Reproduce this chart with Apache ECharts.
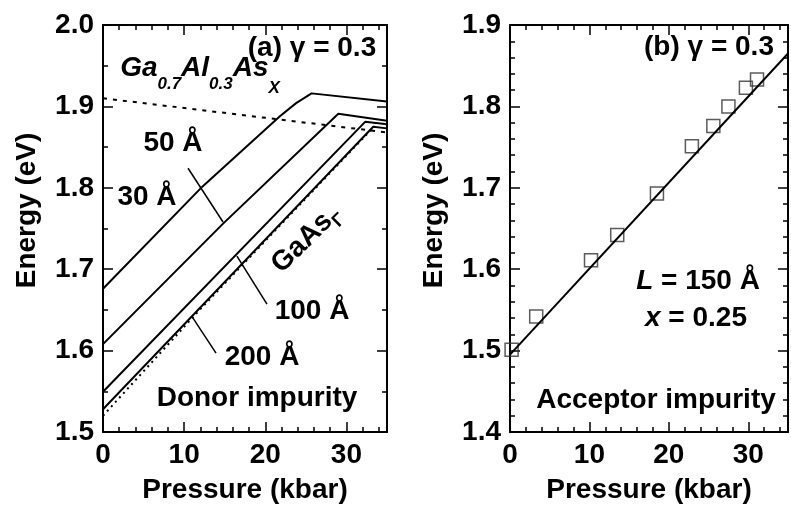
<!DOCTYPE html>
<html><head><meta charset="utf-8">
<script src="https://cdn.jsdelivr.net/npm/echarts@6/dist/echarts.min.js"></script>
<style>html,body{margin:0;padding:0;background:#fff}#c{width:791px;height:519px}</style>
</head><body><div id="c"></div>
<script>
// ---------- Panel (a): donor impurity, [pressure kbar, energy eV] ----------
const line30A  = [[0,1.676],[12,1.799],[21.8,1.888],[23.8,1.904],[25.7,1.916],[35,1.906]];
const line50A  = [[0,1.608],[14.8,1.756],[29.0,1.891],[35,1.8825]];
const line100A = [[0,1.5495],[32.3,1.881],[35,1.878]];
const line200A = [[0,1.528],[33.3,1.875],[35,1.873]];
const gaAsGamma = [[0,1.520],[12,1.651],[33.3,1.874]];
const gaAlAsX   = [[0,1.910],[35,1.868]];
const pointer50  = [[10.48,1.824],[14.79,1.758]];
const pointer100 = [[16.51,1.716],[20.21,1.657]];
const pointer200 = [[11.09,1.640],[13.93,1.597]];

// ---------- Panel (b): acceptor impurity ----------
const acceptorPressure = [0.2,3.3,10.2,13.5,18.5,22.9,25.6,27.5,29.7,31.1];
const acceptorEnergy   = [1.501,1.542,1.611,1.642,1.693,1.751,1.776,1.800,1.823,1.833];
const acceptorFit = [[0,1.495],[35,1.865]];

// ---------- axes ----------
const xRange = [0, 35];
const xLabelTicks = [0, 10, 20, 30];
const yRangeA = [1.5, 2.0];
const yRangeB = [1.4, 1.9];
const xTitle = 'Pressure (kbar)';
const yTitle = 'Energy (eV)';

const FONT = 'Liberation Sans';
const black = '#000';
const lbl = {fontFamily: FONT, fontWeight: 'bold', fontSize: 28, color: black};

const xAxes = [], yAxes = [];
function addAxes(g, yr, ySplit) {
  const base = {gridIndex: g, type: 'value', min: xRange[0], max: xRange[1], splitLine: {show: false}};
  xAxes.push(Object.assign({}, base, {
    position: 'bottom', interval: 2,
    axisLine: {show: true, onZero: false, lineStyle: {color: black, width: 2}},
    axisTick: {show: true, inside: true, length: 5, lineStyle: {color: black, width: 1.5}},
    axisLabel: Object.assign({margin: 9, formatter: v => xLabelTicks.includes(v) ? String(v) : ''}, lbl),
    name: xTitle, nameLocation: 'middle', nameGap: 44,
    nameTextStyle: {fontFamily: FONT, fontWeight: 'bold', fontSize: 28, color: black}
  }));
  xAxes.push(Object.assign({}, base, {position: 'bottom', interval: 10,
    axisLine: {show: false}, axisTick: {show: true, inside: true, length: 10, lineStyle: {color: black, width: 1.5}},
    axisLabel: {show: false}}));
  xAxes.push(Object.assign({}, base, {position: 'top', interval: 2,
    axisLine: {show: true, onZero: false, lineStyle: {color: black, width: 2}},
    axisTick: {show: true, inside: true, length: 5, lineStyle: {color: black, width: 1.5}},
    axisLabel: {show: false}}));
  xAxes.push(Object.assign({}, base, {position: 'top', interval: 10,
    axisLine: {show: false}, axisTick: {show: true, inside: true, length: 10, lineStyle: {color: black, width: 1.5}},
    axisLabel: {show: false}}));
  const yb = {gridIndex: g, type: 'value', min: yr[0], max: yr[1], interval: 0.1, splitLine: {show: false},
    axisLine: {show: true, onZero: false, lineStyle: {color: black, width: 2}},
    axisTick: {show: true, inside: true, length: 10, lineStyle: {color: black, width: 1.5}},
    minorTick: {show: true, splitNumber: ySplit, length: 5, lineStyle: {color: black, width: 1.5}}};
  yAxes.push(Object.assign({}, yb, {position: 'left',
    axisLabel: Object.assign({margin: 9, formatter: v => v.toFixed(1)}, lbl),
    name: yTitle, nameLocation: 'middle', nameGap: 62, nameRotate: 90,
    nameTextStyle: {fontFamily: FONT, fontWeight: 'bold', fontSize: 28, color: black, padding: [0, 0, 0, 36]}}));
  yAxes.push(Object.assign({}, yb, {position: 'right', axisLabel: {show: false}}));
}
addAxes(0, yRangeA, 2);
addAxes(1, yRangeB, 5);

function lineSeries(data, g, opts) {
  return Object.assign({type: 'line', data: data, xAxisIndex: g * 4, yAxisIndex: g * 2,
    showSymbol: false, symbol: 'none', silent: true, animation: false,
    lineStyle: {color: black, width: 2}}, opts || {});
}

const series = [
  lineSeries(gaAlAsX, 0, {lineStyle: {color: black, width: 2, type: [4, 6]}}),
  lineSeries(gaAsGamma, 0, {lineStyle: {color: black, width: 2, type: [2, 4]}}),
  lineSeries(line30A, 0),
  lineSeries(line50A, 0),
  lineSeries(line100A, 0),
  lineSeries(line200A, 0),
  lineSeries(pointer50, 0, {lineStyle: {color: black, width: 1.5}}),
  lineSeries(pointer100, 0, {lineStyle: {color: black, width: 1.5}}),
  lineSeries(pointer200, 0, {lineStyle: {color: black, width: 1.5}}),
  lineSeries(acceptorFit, 1),
  {type: 'scatter', xAxisIndex: 4, yAxisIndex: 2, symbol: 'rect', symbolSize: 13, animation: false,
   data: acceptorPressure.map((p, i) => [p, acceptorEnergy[i]]),
   itemStyle: {color: 'rgba(0,0,0,0)', borderColor: '#333', borderWidth: 1.5}}
];

// ---------- annotation text helper ----------
const mctx = document.createElement('canvas').getContext('2d');
function textRun(parts, cx, cy, rot) {
  let w = 0; const items = [];
  parts.forEach(p => {
    const size = p.s || 28;
    mctx.font = (p.i ? 'italic ' : '') + 'bold ' + size + 'px "' + FONT + '"';
    const tw = mctx.measureText(p.t).width;
    items.push({p: p, size: size, x: w}); w += tw;
  });
  return {type: 'group', x: cx, y: cy, rotation: rot || 0, silent: true,
    children: items.map(it => ({type: 'text', x: it.x - w / 2, y: it.p.dy || 0,
      style: {text: it.p.t, fontFamily: FONT, fontWeight: 'bold', fontStyle: it.p.i ? 'italic' : 'normal',
        fontSize: it.size, fill: black, align: 'left', verticalAlign: 'middle'}}))};
}

const graphic = [
  textRun([{t: '(a) γ = 0.3'}], 312, 48),
  textRun([{t: 'Ga', i: 1}, {t: '0.7', i: 1, s: 17, dy: 16}, {t: 'Al', i: 1}, {t: '0.3', i: 1, s: 17, dy: 16},
           {t: 'As', i: 1}, {t: 'X', i: 1, s: 17, dy: 20}], 200, 68),
  textRun([{t: '50 Å'}], 173, 143),
  textRun([{t: '30 Å'}], 147, 197),
  textRun([{t: 'GaAs'}, {t: 'Γ', s: 18, dy: 10}], 306, 239, 0.78),
  textRun([{t: '100 Å'}], 312, 311),
  textRun([{t: '200 Å'}], 262, 357),
  textRun([{t: 'Donor impurity'}], 257, 398),
  textRun([{t: '(b) γ = 0.3'}], 709, 47),
  textRun([{t: 'L', i: 1}, {t: ' = 150 Å'}], 698, 281),
  textRun([{t: 'x', i: 1}, {t: ' = 0.25'}], 696, 318),
  textRun([{t: 'Acceptor impurity'}], 656, 400)
];

const chart = echarts.init(document.getElementById('c'), null, {renderer: 'canvas'});
chart.setOption({
  animation: false,
  backgroundColor: '#fff',
  grid: [
    {left: 103, top: 25, width: 284, height: 407},
    {left: 510, top: 25, width: 284, height: 407}
  ],
  xAxis: xAxes,
  yAxis: yAxes,
  series: series,
  graphic: graphic
});
</script></body></html>
